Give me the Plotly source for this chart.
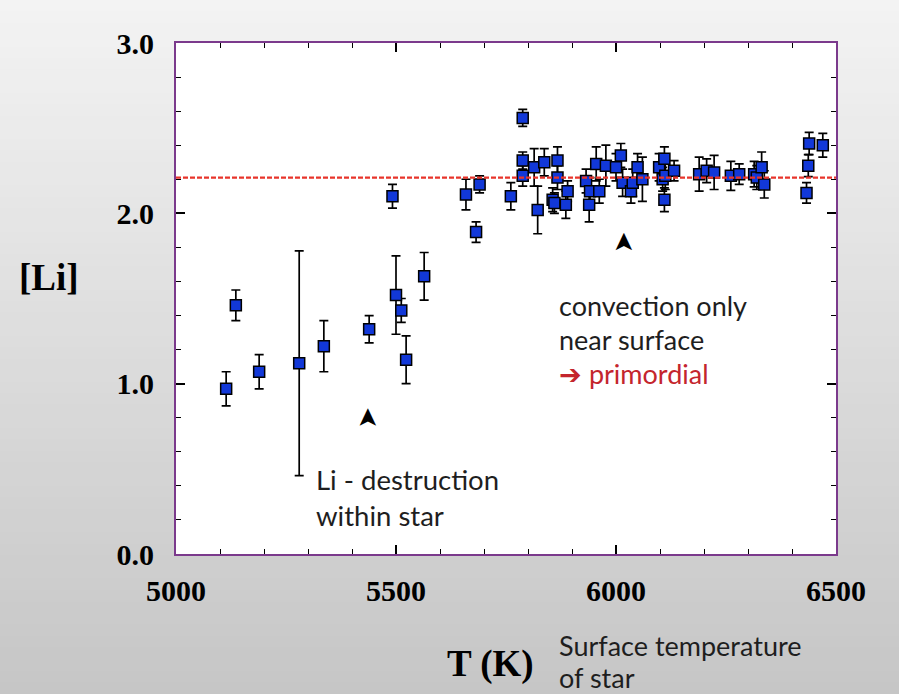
import plotly.graph_objects as go

# ---- data ----
temp_K = [5114, 5136, 5189, 5280, 5336, 5439, 5492, 5500, 5512, 5523, 5564,
          5659, 5682, 5690, 5761, 5788, 5788, 5788, 5814, 5822, 5837, 5856,
          5860, 5867, 5867, 5886, 5890, 5932, 5939, 5941, 5955, 5962, 5977,
          6000, 6011, 6015, 6034, 6038, 6049, 6060, 6098, 6106, 6110, 6112,
          6110, 6132, 6189, 6206, 6223, 6261, 6280, 6314, 6320, 6331, 6337,
          6433, 6437, 6439, 6470]
li_abund = [0.97, 1.46, 1.07, 1.12, 1.22, 1.32, 2.10, 1.52, 1.43, 1.14, 1.63,
            2.11, 1.89, 2.17, 2.10, 2.56, 2.31, 2.22, 2.27, 2.02, 2.30, 2.08,
            2.06, 2.31, 2.21, 2.05, 2.13, 2.19, 2.05, 2.13, 2.29, 2.13, 2.28,
            2.27, 2.34, 2.18, 2.13, 2.18, 2.27, 2.20, 2.27, 2.20, 2.32, 2.22,
            2.08, 2.25, 2.23, 2.25, 2.24, 2.22, 2.23, 2.23, 2.21, 2.27, 2.17,
            2.12, 2.28, 2.41, 2.40]
li_err = [0.10, 0.09, 0.10, 0.66, 0.15, 0.08, 0.07, 0.23, 0.07, 0.14, 0.14,
          0.09, 0.06, 0.05, 0.08, 0.05, 0.05, 0.06, 0.11, 0.14, 0.08, 0.07,
          0.06, 0.08, 0.07, 0.08, 0.06, 0.07, 0.10, 0.08, 0.10, 0.07, 0.12,
          0.08, 0.07, 0.08, 0.07, 0.08, 0.08, 0.13, 0.08, 0.07, 0.07, 0.08,
          0.07, 0.06, 0.10, 0.07, 0.10, 0.085, 0.06, 0.075, 0.07, 0.09, 0.08,
          0.06, 0.065, 0.065, 0.07]
primordial_level = 2.21
arrow_T = [5434, 6016]
arrow_li = [0.80, 1.83]

x_tickvals = [5000, 5500, 6000, 6500]
y_tickvals = [0.0, 1.0, 2.0, 3.0]

# ---- layout geometry ----
W, H = 899, 694
ML, MR, MT, MB = 176, 63, 43, 140
PW, PH = W - ML - MR, H - MT - MB


def px(x):
    return (x - ML) / PW


def py(y):
    return (H - MB - y) / PH


fig = go.Figure()

fig.add_trace(go.Scatter(
    x=temp_K, y=li_abund, mode="markers",
    error_y=dict(type="data", array=li_err, visible=True, color="black",
                 thickness=1.7, width=4.5),
    marker=dict(symbol="square", size=11, color="#1238d8",
                line=dict(color="black", width=1.5)),
    showlegend=False, cliponaxis=False,
))

# background gradient
shapes = []
n = 60
x0p, x1p = px(0), px(W)
for i in range(n):
    t = i / (n - 1)
    c = int(round(243 - (243 - 198) * t))
    ya = py(i * H / n)
    yb = py((i + 1) * H / n + 1)
    shapes.append(dict(type="rect", xref="paper", yref="paper",
                       x0=x0p, x1=x1p, y0=yb, y1=ya, layer="below",
                       line=dict(width=0), fillcolor=f"rgb({c},{c},{c})"))
shapes.append(dict(type="rect", xref="x domain", yref="y domain",
                   x0=0, x1=1, y0=0, y1=1, layer="below",
                   line=dict(width=0), fillcolor="white"))
shapes.append(dict(type="line", xref="x", yref="y",
                   x0=5000, x1=6500, y0=primordial_level, y1=primordial_level,
                   line=dict(color="#e8352b", width=2.2, dash="5px,2px")))

sans = "Lato"
txt = "#1e1e1e"
ann = []

# arrowheads pointing up
for t_, l_ in zip(arrow_T, arrow_li):
    ann.append(dict(text="➤", x=t_, y=l_, xref="x", yref="y", textangle=-90,
                    xanchor="center", yanchor="middle", showarrow=False,
                    font=dict(family="DejaVu Sans", size=26, color="black")))


def add_text(s, x, y, size=27, color=txt, fam=sans, xanchor="left", weight="normal"):
    ann.append(dict(text=s, x=px(x), y=py(y), xref="paper", yref="paper",
                    xanchor=xanchor, yanchor="middle", showarrow=False,
                    font=dict(family=fam, size=size, color=color, weight=weight)))


add_text("convection only", 557, 305)
add_text("near surface", 557, 339)
add_text("➔ primordial", 557, 373, color="#c4252d")
add_text("Li - destruction", 314, 479, size=27.5)
add_text("within star", 314, 515, size=27.5)
add_text("Surface temperature", 557, 645, size=27)
add_text("of star", 557, 677, size=27)
add_text("T (K)", 490, 664, size=37, color="black", fam="Liberation Serif",
         xanchor="center", weight="bold")
add_text("[Li]", 49, 277, size=37, color="black", fam="Liberation Serif",
         xanchor="center", weight="bold")

tickfont = dict(family="Liberation Serif", size=30, color="black", weight="bold")
frame = "#7b3a8c"

fig.update_layout(
    width=W, height=H,
    margin=dict(l=ML, r=MR, t=MT, b=MB),
    paper_bgcolor="#dcdcdc", plot_bgcolor="white",
    shapes=shapes, annotations=ann,
    xaxis=dict(range=[5000, 6500], tickvals=x_tickvals,
               ticktext=[str(v) for v in x_tickvals],
               showgrid=False, zeroline=False,
               showline=True, linecolor=frame, linewidth=2, mirror="ticks",
               ticks="inside", ticklen=9, tickwidth=1.5, tickcolor="black",
               minor=dict(dtick=100, ticks="inside", ticklen=5, tickwidth=1.2,
                          tickcolor="black", showgrid=False),
               tickfont=tickfont, ticklabelstandoff=9),
    yaxis=dict(range=[0, 3], tickvals=y_tickvals,
               ticktext=[f"{v:.1f}" for v in y_tickvals],
               showgrid=False, zeroline=False,
               showline=True, linecolor=frame, linewidth=2, mirror="ticks",
               ticks="inside", ticklen=9, tickwidth=1.5, tickcolor="black",
               minor=dict(dtick=0.2, ticks="inside", ticklen=5, tickwidth=1.2,
                          tickcolor="black", showgrid=False),
               tickfont=tickfont, ticklabelstandoff=14),
)

fig.write_html("out.html")
